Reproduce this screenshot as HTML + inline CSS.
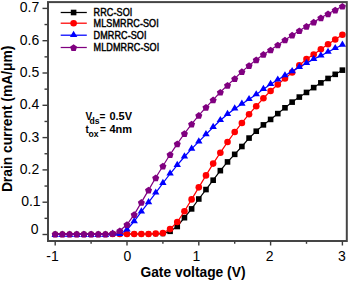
<!DOCTYPE html>
<html><head><meta charset="utf-8"><style>
html,body{margin:0;padding:0;background:#fff;width:350px;height:281px;overflow:hidden}
svg{display:block}
text{font-family:"Liberation Sans",sans-serif}
.tk{font-size:14px}
.lg{font-size:10.4px;font-weight:normal;letter-spacing:0.1px;stroke:#000;stroke-width:0.45px;paint-order:stroke}
.ax{font-size:13.8px;font-weight:bold}
.an{font-size:10px;font-weight:bold}
.sb{font-size:8.6px;font-weight:bold}
</style></head><body>
<svg width="350" height="281" viewBox="0 0 350 281">
<rect x="0" y="0" width="350" height="281" fill="#fff"/>
<polyline points="55.20,234.00 62.38,234.00 69.56,234.00 76.74,234.00 83.92,234.00 91.10,234.00 98.28,234.00 105.46,234.00 112.64,234.00 119.82,234.00 127.00,234.00 134.18,234.00 141.36,234.00 148.54,234.00 155.72,234.00 162.90,234.00 170.08,231.30 177.26,226.50 184.44,217.70 191.62,208.90 198.80,199.00 205.98,189.55 213.16,180.21 220.34,170.65 227.52,161.92 234.70,154.34 241.88,146.50 249.06,138.07 256.24,131.21 263.42,124.88 270.60,119.42 277.78,113.60 284.96,107.80 292.14,102.12 299.32,97.07 306.50,92.44 313.68,87.61 320.86,82.86 328.04,78.45 335.22,74.33 342.40,70.15" fill="none" stroke="#000000" stroke-width="1.2"/>
<rect x="52.90" y="231.70" width="4.6" height="4.6" fill="#000000"/>
<rect x="60.08" y="231.70" width="4.6" height="4.6" fill="#000000"/>
<rect x="67.26" y="231.70" width="4.6" height="4.6" fill="#000000"/>
<rect x="74.44" y="231.70" width="4.6" height="4.6" fill="#000000"/>
<rect x="81.62" y="231.70" width="4.6" height="4.6" fill="#000000"/>
<rect x="88.80" y="231.70" width="4.6" height="4.6" fill="#000000"/>
<rect x="95.98" y="231.70" width="4.6" height="4.6" fill="#000000"/>
<rect x="103.16" y="231.70" width="4.6" height="4.6" fill="#000000"/>
<rect x="110.34" y="231.70" width="4.6" height="4.6" fill="#000000"/>
<rect x="117.52" y="231.70" width="4.6" height="4.6" fill="#000000"/>
<rect x="124.70" y="231.70" width="4.6" height="4.6" fill="#000000"/>
<rect x="131.88" y="231.70" width="4.6" height="4.6" fill="#000000"/>
<rect x="139.06" y="231.70" width="4.6" height="4.6" fill="#000000"/>
<rect x="146.24" y="231.70" width="4.6" height="4.6" fill="#000000"/>
<rect x="153.42" y="231.70" width="4.6" height="4.6" fill="#000000"/>
<rect x="160.60" y="231.70" width="4.6" height="4.6" fill="#000000"/>
<rect x="167.28" y="228.50" width="5.6" height="5.6" fill="#000000"/>
<rect x="174.46" y="223.70" width="5.6" height="5.6" fill="#000000"/>
<rect x="181.64" y="214.90" width="5.6" height="5.6" fill="#000000"/>
<rect x="188.82" y="206.10" width="5.6" height="5.6" fill="#000000"/>
<rect x="196.00" y="196.20" width="5.6" height="5.6" fill="#000000"/>
<rect x="203.18" y="186.75" width="5.6" height="5.6" fill="#000000"/>
<rect x="210.36" y="177.41" width="5.6" height="5.6" fill="#000000"/>
<rect x="217.54" y="167.85" width="5.6" height="5.6" fill="#000000"/>
<rect x="224.72" y="159.12" width="5.6" height="5.6" fill="#000000"/>
<rect x="231.90" y="151.54" width="5.6" height="5.6" fill="#000000"/>
<rect x="239.08" y="143.70" width="5.6" height="5.6" fill="#000000"/>
<rect x="246.26" y="135.27" width="5.6" height="5.6" fill="#000000"/>
<rect x="253.44" y="128.41" width="5.6" height="5.6" fill="#000000"/>
<rect x="260.62" y="122.08" width="5.6" height="5.6" fill="#000000"/>
<rect x="267.80" y="116.62" width="5.6" height="5.6" fill="#000000"/>
<rect x="274.98" y="110.80" width="5.6" height="5.6" fill="#000000"/>
<rect x="282.16" y="105.00" width="5.6" height="5.6" fill="#000000"/>
<rect x="289.34" y="99.32" width="5.6" height="5.6" fill="#000000"/>
<rect x="296.52" y="94.27" width="5.6" height="5.6" fill="#000000"/>
<rect x="303.70" y="89.64" width="5.6" height="5.6" fill="#000000"/>
<rect x="310.88" y="84.81" width="5.6" height="5.6" fill="#000000"/>
<rect x="318.06" y="80.06" width="5.6" height="5.6" fill="#000000"/>
<rect x="325.24" y="75.65" width="5.6" height="5.6" fill="#000000"/>
<rect x="332.42" y="71.53" width="5.6" height="5.6" fill="#000000"/>
<rect x="339.60" y="67.35" width="5.6" height="5.6" fill="#000000"/>
<polyline points="55.20,234.00 62.38,234.00 69.56,234.00 76.74,234.00 83.92,234.00 91.10,234.00 98.28,234.00 105.46,234.00 112.64,234.00 119.82,234.00 127.00,234.00 134.18,234.00 141.36,234.00 148.54,234.00 155.72,233.60 162.90,233.10 170.08,229.10 177.26,222.00 184.44,211.30 191.62,199.40 198.80,187.33 205.98,175.38 213.16,163.59 220.34,152.70 227.52,142.07 234.70,132.01 241.88,122.97 249.06,114.19 256.24,106.22 263.42,98.23 270.60,90.93 277.78,84.49 284.96,78.57 292.14,72.39 299.32,65.35 306.50,59.02 313.68,54.44 320.86,49.26 328.04,44.32 335.22,39.52 342.40,34.80" fill="none" stroke="#ff0000" stroke-width="1.2"/>
<circle cx="55.20" cy="234.40" r="2.9" fill="#ff0000"/>
<circle cx="62.38" cy="234.40" r="2.9" fill="#ff0000"/>
<circle cx="69.56" cy="234.40" r="2.9" fill="#ff0000"/>
<circle cx="76.74" cy="234.40" r="2.9" fill="#ff0000"/>
<circle cx="83.92" cy="234.40" r="2.9" fill="#ff0000"/>
<circle cx="91.10" cy="234.40" r="2.9" fill="#ff0000"/>
<circle cx="98.28" cy="234.40" r="2.9" fill="#ff0000"/>
<circle cx="105.46" cy="234.40" r="2.9" fill="#ff0000"/>
<circle cx="112.64" cy="234.00" r="3.3" fill="#ff0000"/>
<circle cx="119.82" cy="234.00" r="3.3" fill="#ff0000"/>
<circle cx="127.00" cy="234.00" r="3.3" fill="#ff0000"/>
<circle cx="134.18" cy="234.00" r="3.3" fill="#ff0000"/>
<circle cx="141.36" cy="234.00" r="3.3" fill="#ff0000"/>
<circle cx="148.54" cy="234.00" r="3.3" fill="#ff0000"/>
<circle cx="155.72" cy="233.60" r="3.3" fill="#ff0000"/>
<circle cx="162.90" cy="233.10" r="3.3" fill="#ff0000"/>
<circle cx="170.08" cy="229.10" r="3.3" fill="#ff0000"/>
<circle cx="177.26" cy="222.00" r="3.3" fill="#ff0000"/>
<circle cx="184.44" cy="211.30" r="3.3" fill="#ff0000"/>
<circle cx="191.62" cy="199.40" r="3.3" fill="#ff0000"/>
<circle cx="198.80" cy="187.33" r="3.3" fill="#ff0000"/>
<circle cx="205.98" cy="175.38" r="3.3" fill="#ff0000"/>
<circle cx="213.16" cy="163.59" r="3.3" fill="#ff0000"/>
<circle cx="220.34" cy="152.70" r="3.3" fill="#ff0000"/>
<circle cx="227.52" cy="142.07" r="3.3" fill="#ff0000"/>
<circle cx="234.70" cy="132.01" r="3.3" fill="#ff0000"/>
<circle cx="241.88" cy="122.97" r="3.3" fill="#ff0000"/>
<circle cx="249.06" cy="114.19" r="3.3" fill="#ff0000"/>
<circle cx="256.24" cy="106.22" r="3.3" fill="#ff0000"/>
<circle cx="263.42" cy="98.23" r="3.3" fill="#ff0000"/>
<circle cx="270.60" cy="90.93" r="3.3" fill="#ff0000"/>
<circle cx="277.78" cy="84.49" r="3.3" fill="#ff0000"/>
<circle cx="284.96" cy="78.57" r="3.3" fill="#ff0000"/>
<circle cx="292.14" cy="72.39" r="3.3" fill="#ff0000"/>
<circle cx="299.32" cy="65.35" r="3.3" fill="#ff0000"/>
<circle cx="306.50" cy="59.02" r="3.3" fill="#ff0000"/>
<circle cx="313.68" cy="54.44" r="3.3" fill="#ff0000"/>
<circle cx="320.86" cy="49.26" r="3.3" fill="#ff0000"/>
<circle cx="328.04" cy="44.32" r="3.3" fill="#ff0000"/>
<circle cx="335.22" cy="39.52" r="3.3" fill="#ff0000"/>
<circle cx="342.40" cy="34.80" r="3.3" fill="#ff0000"/>
<polyline points="55.20,234.00 62.38,234.00 69.56,234.00 76.74,234.00 83.92,234.00 91.10,234.00 98.28,234.00 105.46,234.00 112.64,234.00 119.82,234.20 127.00,229.70 134.18,221.40 141.36,211.60 148.54,202.40 155.72,192.80 162.90,183.20 170.08,173.76 177.26,165.11 184.44,156.76 191.62,148.85 198.80,141.64 205.98,134.34 213.16,127.20 220.34,120.28 227.52,114.25 234.70,108.73 241.88,103.92 249.06,99.30 256.24,94.54 263.42,89.14 270.60,84.26 277.78,79.81 284.96,75.53 292.14,71.39 299.32,67.23 306.50,63.17 313.68,59.15 320.86,55.73 328.04,52.07 335.22,48.30 342.40,45.00" fill="none" stroke="#0000ff" stroke-width="1.2"/>
<polygon points="55.20,230.80 58.90,237.00 51.50,237.00" fill="#0000ff"/>
<polygon points="62.38,230.80 66.08,237.00 58.68,237.00" fill="#0000ff"/>
<polygon points="69.56,230.80 73.26,237.00 65.86,237.00" fill="#0000ff"/>
<polygon points="76.74,230.80 80.44,237.00 73.04,237.00" fill="#0000ff"/>
<polygon points="83.92,230.80 87.62,237.00 80.22,237.00" fill="#0000ff"/>
<polygon points="91.10,230.80 94.80,237.00 87.40,237.00" fill="#0000ff"/>
<polygon points="98.28,230.80 101.98,237.00 94.58,237.00" fill="#0000ff"/>
<polygon points="105.46,230.80 109.16,237.00 101.76,237.00" fill="#0000ff"/>
<polygon points="112.64,229.60 116.34,235.80 108.94,235.80" fill="#0000ff"/>
<polygon points="119.82,229.80 123.52,236.00 116.12,236.00" fill="#0000ff"/>
<polygon points="127.00,225.30 130.70,231.50 123.30,231.50" fill="#0000ff"/>
<polygon points="134.18,217.00 137.88,223.20 130.48,223.20" fill="#0000ff"/>
<polygon points="141.36,207.20 145.06,213.40 137.66,213.40" fill="#0000ff"/>
<polygon points="148.54,198.00 152.24,204.20 144.84,204.20" fill="#0000ff"/>
<polygon points="155.72,188.40 159.42,194.60 152.02,194.60" fill="#0000ff"/>
<polygon points="162.90,178.80 166.60,185.00 159.20,185.00" fill="#0000ff"/>
<polygon points="170.08,169.36 173.78,175.56 166.38,175.56" fill="#0000ff"/>
<polygon points="177.26,160.71 180.96,166.91 173.56,166.91" fill="#0000ff"/>
<polygon points="184.44,152.36 188.14,158.56 180.74,158.56" fill="#0000ff"/>
<polygon points="191.62,144.45 195.32,150.65 187.92,150.65" fill="#0000ff"/>
<polygon points="198.80,137.24 202.50,143.44 195.10,143.44" fill="#0000ff"/>
<polygon points="205.98,129.94 209.68,136.14 202.28,136.14" fill="#0000ff"/>
<polygon points="213.16,122.80 216.86,129.00 209.46,129.00" fill="#0000ff"/>
<polygon points="220.34,115.88 224.04,122.08 216.64,122.08" fill="#0000ff"/>
<polygon points="227.52,109.84 231.22,116.05 223.82,116.05" fill="#0000ff"/>
<polygon points="234.70,104.33 238.40,110.53 231.00,110.53" fill="#0000ff"/>
<polygon points="241.88,99.52 245.58,105.72 238.18,105.72" fill="#0000ff"/>
<polygon points="249.06,94.90 252.76,101.10 245.36,101.10" fill="#0000ff"/>
<polygon points="256.24,90.14 259.94,96.34 252.54,96.34" fill="#0000ff"/>
<polygon points="263.42,84.73 267.12,90.94 259.72,90.94" fill="#0000ff"/>
<polygon points="270.60,79.86 274.30,86.06 266.90,86.06" fill="#0000ff"/>
<polygon points="277.78,75.41 281.48,81.61 274.08,81.61" fill="#0000ff"/>
<polygon points="284.96,71.13 288.66,77.33 281.26,77.33" fill="#0000ff"/>
<polygon points="292.14,66.98 295.84,73.19 288.44,73.19" fill="#0000ff"/>
<polygon points="299.32,62.83 303.02,69.03 295.62,69.03" fill="#0000ff"/>
<polygon points="306.50,58.77 310.20,64.97 302.80,64.97" fill="#0000ff"/>
<polygon points="313.68,54.75 317.38,60.95 309.98,60.95" fill="#0000ff"/>
<polygon points="320.86,51.33 324.56,57.52 317.16,57.52" fill="#0000ff"/>
<polygon points="328.04,47.67 331.74,53.87 324.34,53.87" fill="#0000ff"/>
<polygon points="335.22,43.91 338.92,50.10 331.52,50.10" fill="#0000ff"/>
<polygon points="342.40,40.60 346.10,46.80 338.70,46.80" fill="#0000ff"/>
<polyline points="55.20,234.00 62.38,234.00 69.56,234.00 76.74,234.00 83.92,234.00 91.10,234.00 98.28,234.00 105.46,234.00 112.64,233.30 119.82,230.70 127.00,224.50 134.18,214.60 141.36,202.40 148.54,190.10 155.72,177.80 162.90,166.03 170.08,154.55 177.26,143.83 184.44,133.53 191.62,124.04 198.80,115.37 205.98,107.33 213.16,99.88 220.34,92.18 227.52,85.26 234.70,78.65 241.88,71.64 249.06,65.60 256.24,59.83 263.42,54.42 270.60,49.94 277.78,44.93 284.96,39.93 292.14,35.16 299.32,30.68 306.50,26.27 313.68,22.14 320.86,17.84 328.04,13.77 335.22,10.05 342.40,6.20" fill="none" stroke="#800080" stroke-width="1.2"/>
<polygon points="55.20,230.70 58.72,233.26 57.37,237.39 53.03,237.39 51.68,233.26" fill="#800080"/>
<polygon points="62.38,230.70 65.90,233.26 64.55,237.39 60.21,237.39 58.86,233.26" fill="#800080"/>
<polygon points="69.56,230.70 73.08,233.26 71.73,237.39 67.39,237.39 66.04,233.26" fill="#800080"/>
<polygon points="76.74,230.70 80.26,233.26 78.91,237.39 74.57,237.39 73.22,233.26" fill="#800080"/>
<polygon points="83.92,230.70 87.44,233.26 86.09,237.39 81.75,237.39 80.40,233.26" fill="#800080"/>
<polygon points="91.10,230.70 94.62,233.26 93.27,237.39 88.93,237.39 87.58,233.26" fill="#800080"/>
<polygon points="98.28,230.70 101.80,233.26 100.45,237.39 96.11,237.39 94.76,233.26" fill="#800080"/>
<polygon points="105.46,230.70 108.98,233.26 107.63,237.39 103.29,237.39 101.94,233.26" fill="#800080"/>
<polygon points="112.64,230.00 116.16,232.56 114.81,236.69 110.47,236.69 109.12,232.56" fill="#800080"/>
<polygon points="119.82,227.40 123.34,229.96 121.99,234.09 117.65,234.09 116.30,229.96" fill="#800080"/>
<polygon points="127.00,221.20 130.52,223.76 129.17,227.89 124.83,227.89 123.48,223.76" fill="#800080"/>
<polygon points="134.18,211.30 137.70,213.86 136.35,217.99 132.01,217.99 130.66,213.86" fill="#800080"/>
<polygon points="141.36,199.10 144.88,201.66 143.53,205.79 139.19,205.79 137.84,201.66" fill="#800080"/>
<polygon points="148.54,186.80 152.06,189.36 150.71,193.49 146.37,193.49 145.02,189.36" fill="#800080"/>
<polygon points="155.72,174.50 159.24,177.06 157.89,181.19 153.55,181.19 152.20,177.06" fill="#800080"/>
<polygon points="162.90,162.73 166.42,165.29 165.07,169.42 160.73,169.42 159.38,165.29" fill="#800080"/>
<polygon points="170.08,151.25 173.60,153.81 172.25,157.94 167.91,157.94 166.56,153.81" fill="#800080"/>
<polygon points="177.26,140.53 180.78,143.09 179.43,147.22 175.09,147.22 173.74,143.09" fill="#800080"/>
<polygon points="184.44,130.24 187.96,132.79 186.61,136.93 182.27,136.93 180.92,132.79" fill="#800080"/>
<polygon points="191.62,120.74 195.14,123.29 193.79,127.43 189.45,127.43 188.10,123.29" fill="#800080"/>
<polygon points="198.80,112.07 202.32,114.63 200.97,118.77 196.63,118.77 195.28,114.63" fill="#800080"/>
<polygon points="205.98,104.03 209.50,106.59 208.15,110.73 203.81,110.73 202.46,106.59" fill="#800080"/>
<polygon points="213.16,96.58 216.68,99.14 215.33,103.27 210.99,103.27 209.64,99.14" fill="#800080"/>
<polygon points="220.34,88.88 223.86,91.44 222.51,95.57 218.17,95.57 216.82,91.44" fill="#800080"/>
<polygon points="227.52,81.96 231.04,84.52 229.69,88.65 225.35,88.65 224.00,84.52" fill="#800080"/>
<polygon points="234.70,75.35 238.22,77.91 236.87,82.04 232.53,82.04 231.18,77.91" fill="#800080"/>
<polygon points="241.88,68.34 245.40,70.90 244.05,75.03 239.71,75.03 238.36,70.90" fill="#800080"/>
<polygon points="249.06,62.30 252.58,64.86 251.23,68.99 246.89,68.99 245.54,64.86" fill="#800080"/>
<polygon points="256.24,56.53 259.76,59.09 258.41,63.22 254.07,63.22 252.72,59.09" fill="#800080"/>
<polygon points="263.42,51.12 266.94,53.68 265.59,57.82 261.25,57.82 259.90,53.68" fill="#800080"/>
<polygon points="270.60,46.63 274.12,49.19 272.77,53.33 268.43,53.33 267.08,49.19" fill="#800080"/>
<polygon points="277.78,41.63 281.30,44.19 279.95,48.32 275.61,48.32 274.26,44.19" fill="#800080"/>
<polygon points="284.96,36.63 288.48,39.19 287.13,43.32 282.79,43.32 281.44,39.19" fill="#800080"/>
<polygon points="292.14,31.86 295.66,34.42 294.31,38.55 289.97,38.55 288.62,34.42" fill="#800080"/>
<polygon points="299.32,27.38 302.84,29.94 301.49,34.08 297.15,34.08 295.80,29.94" fill="#800080"/>
<polygon points="306.50,22.97 310.02,25.53 308.67,29.67 304.33,29.67 302.98,25.53" fill="#800080"/>
<polygon points="313.68,18.84 317.20,21.40 315.85,25.53 311.51,25.53 310.16,21.40" fill="#800080"/>
<polygon points="320.86,14.54 324.38,17.10 323.03,21.24 318.69,21.24 317.34,17.10" fill="#800080"/>
<polygon points="328.04,10.47 331.56,13.03 330.21,17.17 325.87,17.17 324.52,13.03" fill="#800080"/>
<polygon points="335.22,6.75 338.74,9.31 337.39,13.45 333.05,13.45 331.70,9.31" fill="#800080"/>
<polygon points="342.40,2.90 345.92,5.46 344.57,9.59 340.23,9.59 338.88,5.46" fill="#800080"/>
<rect x="48" y="2.1" width="298.8" height="238.9" fill="none" stroke="#454545" stroke-width="2"/>
<line x1="42.5" y1="234.50" x2="47.5" y2="234.50" stroke="#3a3a3a" stroke-width="1.4"/>
<text x="38.50" y="234.20" class="tk" text-anchor="end">0</text>
<line x1="42.5" y1="202.20" x2="47.5" y2="202.20" stroke="#3a3a3a" stroke-width="1.4"/>
<text x="40.60" y="206.10" class="tk" text-anchor="end">0.1</text>
<line x1="42.5" y1="169.90" x2="47.5" y2="169.90" stroke="#3a3a3a" stroke-width="1.4"/>
<text x="39.20" y="173.80" class="tk" text-anchor="end">0.2</text>
<line x1="42.5" y1="137.60" x2="47.5" y2="137.60" stroke="#3a3a3a" stroke-width="1.4"/>
<text x="39.20" y="141.50" class="tk" text-anchor="end">0.3</text>
<line x1="42.5" y1="105.30" x2="47.5" y2="105.30" stroke="#3a3a3a" stroke-width="1.4"/>
<text x="39.20" y="109.20" class="tk" text-anchor="end">0.4</text>
<line x1="42.5" y1="73.00" x2="47.5" y2="73.00" stroke="#3a3a3a" stroke-width="1.4"/>
<text x="39.20" y="76.90" class="tk" text-anchor="end">0.5</text>
<line x1="42.5" y1="40.70" x2="47.5" y2="40.70" stroke="#3a3a3a" stroke-width="1.4"/>
<text x="39.20" y="44.60" class="tk" text-anchor="end">0.6</text>
<line x1="42.5" y1="8.40" x2="47.5" y2="8.40" stroke="#3a3a3a" stroke-width="1.4"/>
<text x="39.20" y="12.30" class="tk" text-anchor="end">0.7</text>
<line x1="44.5" y1="218.35" x2="47.5" y2="218.35" stroke="#3a3a3a" stroke-width="1.4"/>
<line x1="44.5" y1="186.05" x2="47.5" y2="186.05" stroke="#3a3a3a" stroke-width="1.4"/>
<line x1="44.5" y1="153.75" x2="47.5" y2="153.75" stroke="#3a3a3a" stroke-width="1.4"/>
<line x1="44.5" y1="121.45" x2="47.5" y2="121.45" stroke="#3a3a3a" stroke-width="1.4"/>
<line x1="44.5" y1="89.15" x2="47.5" y2="89.15" stroke="#3a3a3a" stroke-width="1.4"/>
<line x1="44.5" y1="56.85" x2="47.5" y2="56.85" stroke="#3a3a3a" stroke-width="1.4"/>
<line x1="44.5" y1="24.55" x2="47.5" y2="24.55" stroke="#3a3a3a" stroke-width="1.4"/>
<line x1="55.20" y1="241.5" x2="55.20" y2="245.5" stroke="#3a3a3a" stroke-width="1.4"/>
<text x="52.60" y="260.6" class="tk" text-anchor="middle">-1</text>
<line x1="127.00" y1="241.5" x2="127.00" y2="245.5" stroke="#3a3a3a" stroke-width="1.4"/>
<text x="127.30" y="260.6" class="tk" text-anchor="middle">0</text>
<line x1="198.80" y1="241.5" x2="198.80" y2="245.5" stroke="#3a3a3a" stroke-width="1.4"/>
<text x="196.30" y="260.6" class="tk" text-anchor="middle">1</text>
<line x1="270.60" y1="241.5" x2="270.60" y2="245.5" stroke="#3a3a3a" stroke-width="1.4"/>
<text x="269.60" y="260.6" class="tk" text-anchor="middle">2</text>
<line x1="342.40" y1="241.5" x2="342.40" y2="245.5" stroke="#3a3a3a" stroke-width="1.4"/>
<text x="342.00" y="260.6" class="tk" text-anchor="middle">3</text>
<line x1="91.10" y1="241.5" x2="91.10" y2="243.8" stroke="#3a3a3a" stroke-width="1.4"/>
<line x1="162.90" y1="241.5" x2="162.90" y2="243.8" stroke="#3a3a3a" stroke-width="1.4"/>
<line x1="234.70" y1="241.5" x2="234.70" y2="243.8" stroke="#3a3a3a" stroke-width="1.4"/>
<line x1="306.50" y1="241.5" x2="306.50" y2="243.8" stroke="#3a3a3a" stroke-width="1.4"/>
<line x1="60.7" y1="12.5" x2="86.8" y2="12.5" stroke="#000000" stroke-width="1.25"/>
<rect x="70.80" y="9.70" width="5.6" height="5.6" fill="#000000"/>
<line x1="60.7" y1="23.2" x2="86.8" y2="23.2" stroke="#ff0000" stroke-width="1.25"/>
<circle cx="73.60" cy="23.20" r="3.3" fill="#ff0000"/>
<line x1="60.7" y1="35.2" x2="86.8" y2="35.2" stroke="#0000ff" stroke-width="1.25"/>
<polygon points="73.60,30.80 77.30,37.00 69.90,37.00" fill="#0000ff"/>
<line x1="60.7" y1="47.5" x2="86.8" y2="47.5" stroke="#800080" stroke-width="1.25"/>
<polygon points="73.60,44.20 77.12,46.76 75.77,50.89 71.43,50.89 70.08,46.76" fill="#800080"/>
<text transform="translate(93.6,15.90) scale(0.87,1)" class="lg">RRC-SOI</text>
<text transform="translate(93.6,27.30) scale(0.87,1)" class="lg">MLSMRRC-SOI</text>
<text transform="translate(93.6,39.40) scale(0.87,1)" class="lg">DMRRC-SOI</text>
<text transform="translate(93.6,50.70) scale(0.87,1)" class="lg">MLDMRRC-SOI</text>
<text x="85.6" y="119.6" class="an">V</text><text x="89.6" y="124.0" class="sb">ds</text><text x="99.6" y="119.6" class="an">=</text><text transform="translate(109.4,119.6) scale(1.1,1)" class="an">0.5V</text>
<text x="85.4" y="133.2" class="an">t</text><text x="88.4" y="137.4" class="sb">ox</text><text x="99.9" y="133.2" class="an">=</text><text transform="translate(109.4,133.2) scale(1.1,1)" class="an">4nm</text>
<text x="193.0" y="277.0" class="ax" text-anchor="middle">Gate voltage (V)</text>
<text transform="translate(12.3,118.9) rotate(-90)" class="ax" text-anchor="middle">Drain current (mA/μm)</text>
</svg>
</body></html>
